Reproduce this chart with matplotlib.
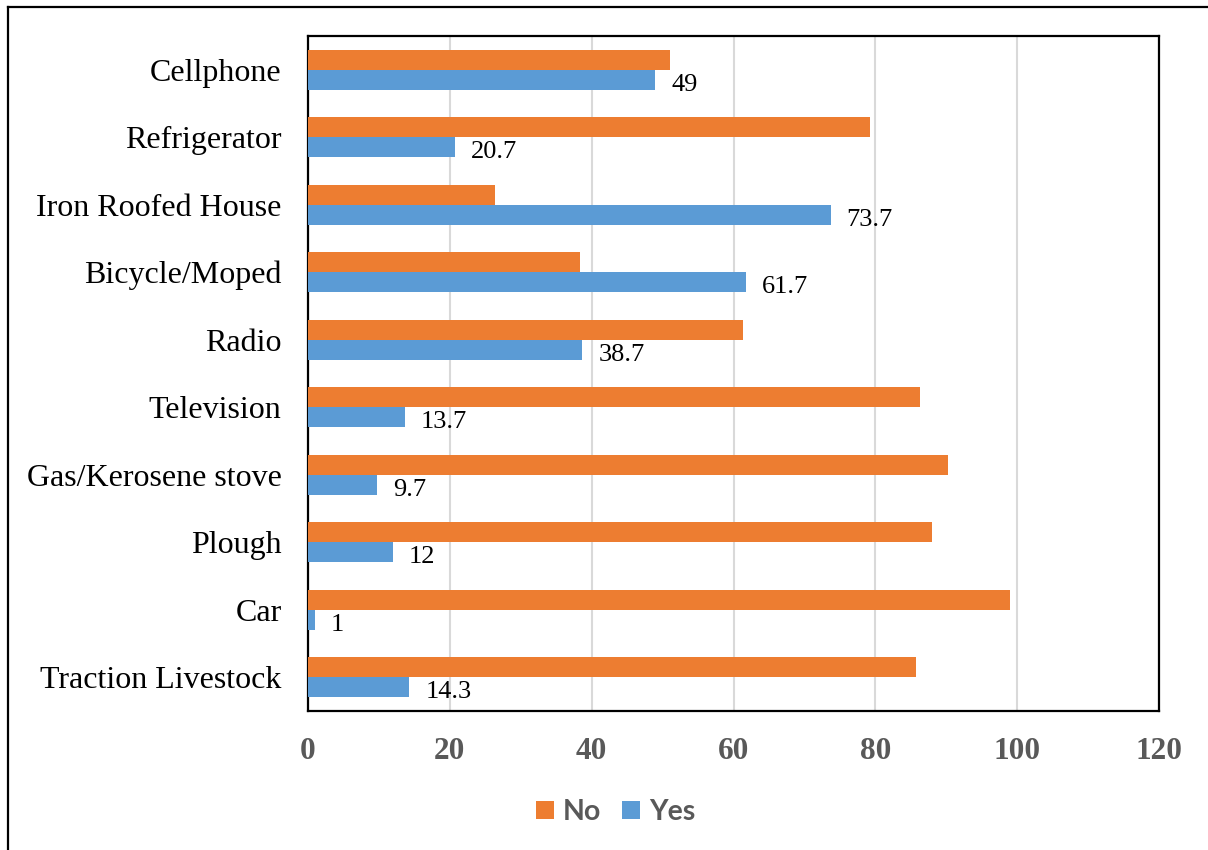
import matplotlib.pyplot as plt
import numpy as np
from matplotlib.patches import Patch
from matplotlib.lines import Line2D

categories = ["Cellphone", "Refrigerator", "Iron Roofed House", "Bicycle/Moped",
              "Radio", "Television", "Gas/Kerosene stove", "Plough", "Car",
              "Traction Livestock"]
yes_values = [49, 20.7, 73.7, 61.7, 38.7, 13.7, 9.7, 12, 1, 14.3]
no_values = [51, 79.3, 26.3, 38.3, 61.3, 86.3, 90.3, 88, 99, 85.7]
x_ticks = [0, 20, 40, 60, 80, 100, 120]

ORANGE = "#ED7D31"
BLUE = "#5B9BD5"
TICK_GREY = "#595959"
SERIF = ["Liberation Serif", "DejaVu Serif"]

W, H = 1208, 850
fig = plt.figure(figsize=(W / 100, H / 100), dpi=100)
fig.patch.set_facecolor("white")

ax = fig.add_axes([308 / W, 1 - 711 / H, (1159 - 308) / W, (711 - 36) / H])

n = len(categories)
pos = np.arange(n)[::-1].astype(float)
bh = 0.296
ax.barh(pos + bh / 2, no_values, height=bh, color=ORANGE, zorder=3)
bars_yes = ax.barh(pos - bh / 2, yes_values, height=bh, color=BLUE, zorder=3)

for rect, v in zip(bars_yes, yes_values):
    ax.annotate(f"{v:g}", xy=(rect.get_width(), rect.get_y() + rect.get_height() / 2),
                xytext=(11.5, -3.5), textcoords="offset points", ha="left", va="center",
                fontsize=19, family=SERIF, color="black")

ax.set_xlim(0, 120)
ax.set_ylim(-0.5, n - 0.5)
ax.set_xticks(x_ticks)
ax.set_xticklabels([str(t) for t in x_ticks], family=SERIF, fontweight="bold",
                   fontsize=22.5, color=TICK_GREY)
ax.set_yticks(pos)
ax.set_yticklabels(categories, family=SERIF, fontsize=23, color="black")
ax.tick_params(axis="x", length=0, pad=19)
ax.tick_params(axis="y", length=0, pad=19)
ax.xaxis.grid(True, color="#D9D9D9", linewidth=1.5, zorder=0)
ax.set_axisbelow(True)
for s in ax.spines.values():
    s.set_linewidth(1.6)
    s.set_color("black")

handles = [Patch(facecolor=ORANGE, label="No"), Patch(facecolor=BLUE, label="Yes")]
fig.legend(handles=handles, loc="center", bbox_to_anchor=(615.5 / W, 1 - 812 / H),
           ncol=2, frameon=False, handlelength=0.63, handleheight=0.63,
           handletextpad=0.3, columnspacing=0.75,
           prop={"family": ["Lato", "DejaVu Sans"], "weight": "bold", "size": 20.5},
           labelcolor=TICK_GREY)

# outer frame (left and top edges)
fig.add_artist(Line2D([8 / W, 8 / W], [0, 1 - 7 / H], transform=fig.transFigure,
                      color="black", linewidth=1.6))
fig.add_artist(Line2D([8 / W, 1], [1 - 7 / H, 1 - 7 / H], transform=fig.transFigure,
                      color="black", linewidth=1.6))

fig.savefig("out.png", dpi=100, facecolor="white")
